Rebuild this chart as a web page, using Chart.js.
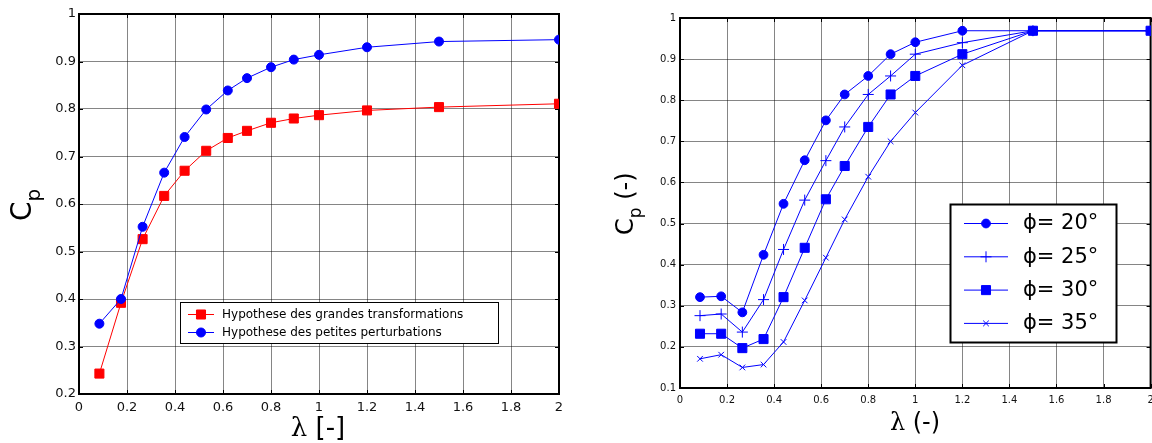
<!DOCTYPE html>
<html><head><meta charset="utf-8">
<script src="https://cdn.jsdelivr.net/npm/chart.js@4.4.1/dist/chart.umd.min.js"></script>
<style>
html,body{margin:0;padding:0;background:#fff;width:1152px;height:443px;overflow:hidden;position:relative;}
#c1{position:absolute;left:0;top:0;}
#c2{position:absolute;left:580px;top:0;}
</style></head><body>
<canvas id="c1" width="580" height="443"></canvas>
<canvas id="c2" width="578" height="443"></canvas>
<script>
// ---- data ----
const lambda = [0.085, 0.175, 0.265, 0.355, 0.44, 0.53, 0.62, 0.70, 0.80, 0.895, 1.0, 1.2, 1.5, 2.0];
const cpGrandes = [0.243, 0.392, 0.526, 0.617, 0.670, 0.712, 0.739, 0.754, 0.771, 0.780, 0.787, 0.797, 0.804, 0.811];
const cpPetites = [0.348, 0.400, 0.552, 0.666, 0.741, 0.799, 0.839, 0.865, 0.888, 0.904, 0.914, 0.930, 0.942, 0.946];
const cpPhi20 = [0.321, 0.323, 0.284, 0.424, 0.548, 0.654, 0.751, 0.814, 0.859, 0.912, 0.941, 0.969, 0.969, 0.969];
const cpPhi25 = [0.276, 0.280, 0.236, 0.315, 0.437, 0.557, 0.653, 0.735, 0.814, 0.859, 0.912, 0.940, 0.969, 0.969];
const cpPhi30 = [0.232, 0.232, 0.197, 0.219, 0.321, 0.441, 0.559, 0.640, 0.735, 0.814, 0.859, 0.912, 0.969, 0.969];
const cpPhi35 = [0.171, 0.181, 0.150, 0.157, 0.212, 0.313, 0.417, 0.510, 0.614, 0.700, 0.770, 0.885, 0.969, 0.969];
const labelsLeft = ['Hypothese des grandes transformations', 'Hypothese des petites perturbations'];
const labelsRight = ['\u03D5= 20\u00B0', '\u03D5= 25\u00B0', '\u03D5= 30\u00B0', '\u03D5= 35\u00B0'];
const xTitleLeft = ['\u03BB', ' [-]'];
const xTitleRight = ['\u03BB', ' (-)'];
const yTitleMain = 'C', yTitleSub = 'p', yTitleUnitRight = ' (-)';

const pts = arr => lambda.map((x, i) => ({x: x, y: arr[i]}));
const SANS = '"DejaVu Sans", "Liberation Sans", Arial, sans-serif';
const SERIF = '"DejaVu Serif", "Liberation Serif", serif';
const GRID = 'rgba(0,0,0,0.48)';
const fmt = v => String(parseFloat(Number(v).toFixed(2)));

function drawMarker(ctx, ds, x, y) {
  ctx.fillStyle = ds.pointBackgroundColor || ds.borderColor;
  ctx.strokeStyle = ds.pointBorderColor || ds.borderColor;
  ctx.lineWidth = 1;
  if (Chart.helpers && Chart.helpers.drawPoint) {
    Chart.helpers.drawPoint(ctx, {pointStyle: ds.pointStyle, radius: ds.pointRadius, rotation: 0, borderWidth: 1}, x, y);
  }
}

function framePlugin(id) {
  return {
    id: id,
    beforeDatasetsDraw(ch) {
      const {ctx, chartArea: a, scales} = ch;
      ctx.save();
      ctx.strokeStyle = '#000';
      ctx.lineWidth = 1;
      const L = 4;
      ctx.beginPath();
      scales.x.ticks.forEach(t => {
        const px = Math.round(scales.x.getPixelForValue(t.value)) + 0.5;
        ctx.moveTo(px, a.bottom); ctx.lineTo(px, a.bottom - L);
        ctx.moveTo(px, a.top); ctx.lineTo(px, a.top + L);
      });
      scales.y.ticks.forEach(t => {
        const py = Math.round(scales.y.getPixelForValue(t.value)) + 0.5;
        ctx.moveTo(a.left, py); ctx.lineTo(a.left + L, py);
        ctx.moveTo(a.right, py); ctx.lineTo(a.right - L, py);
      });
      ctx.stroke();
      ctx.lineWidth = 2;
      ctx.strokeRect(a.left, a.top, a.right - a.left, a.bottom - a.top);
      ctx.restore();
    }
  };
}

function legendPlugin(id, cfg) {
  return {
    id: id,
    afterDatasetsDraw(ch) {
      const ctx = ch.ctx;
      ctx.save();
      ctx.fillStyle = '#fff';
      ctx.fillRect(cfg.x, cfg.y, cfg.w, cfg.h);
      ctx.strokeStyle = '#000';
      ctx.lineWidth = cfg.border;
      ctx.strokeRect(cfg.x + 0.5, cfg.y + 0.5, cfg.w, cfg.h);
      cfg.order.forEach((di, k) => {
        const ds = ch.data.datasets[di];
        const yy = cfg.y0 + k * cfg.dy;
        ctx.strokeStyle = ds.borderColor;
        ctx.lineWidth = 1;
        ctx.beginPath();
        ctx.moveTo(cfg.lx0, yy + 0.5); ctx.lineTo(cfg.lx1, yy + 0.5);
        ctx.stroke();
        drawMarker(ctx, ds, (cfg.lx0 + cfg.lx1) / 2, yy + 0.5);
        ctx.fillStyle = '#000';
        ctx.font = cfg.font;
        ctx.textBaseline = 'middle';
        ctx.textAlign = 'left';
        ctx.fillText(ds.label, cfg.tx, yy + 1);
      });
      ctx.restore();
    }
  };
}

function titlePlugin(id, cfg) {
  return {
    id: id,
    afterDraw(ch) {
      const ctx = ch.ctx;
      ctx.save();
      ctx.fillStyle = '#000';
      ctx.textBaseline = 'alphabetic';
      ctx.textAlign = 'left';
      ctx.font = cfg.xFont1;
      const w1 = ctx.measureText(cfg.xText[0]).width;
      ctx.font = cfg.xFont2;
      const w2 = ctx.measureText(cfg.xText[1]).width;
      let sx = cfg.xCx - (w1 + w2) / 2;
      ctx.font = cfg.xFont1;
      ctx.fillText(cfg.xText[0], sx, cfg.xBase);
      ctx.font = cfg.xFont2;
      ctx.fillText(cfg.xText[1], sx + w1, cfg.xBase);
      ctx.translate(cfg.yBaseX, cfg.yStartY);
      ctx.rotate(-Math.PI / 2);
      ctx.font = cfg.yFont;
      ctx.fillText(yTitleMain, 0, 0);
      const wc = ctx.measureText(yTitleMain).width;
      ctx.font = cfg.ySubFont;
      ctx.fillText(yTitleSub, wc, cfg.ySubDrop);
      const wp = ctx.measureText(yTitleSub).width;
      if (cfg.yUnit) {
        ctx.font = cfg.yFont;
        ctx.fillText(cfg.yUnit, wc + wp, 0);
      }
      ctx.restore();
    }
  };
}

function axes(xmin, xmax, xstep, ymin, ymax, ystep, yWidth, xHeight, fontSize, xPad, yPad) {
  return {
    x: {
      type: 'linear', min: xmin, max: xmax,
      ticks: {stepSize: xstep, color: '#111', font: {family: SANS, size: fontSize}, padding: xPad, maxRotation: 0, autoSkip: false, callback: fmt},
      grid: {color: GRID, lineWidth: 1, drawTicks: false},
      border: {display: false},
      afterFit: s => { s.height = xHeight; s.paddingLeft = 0; s.paddingRight = 0; }
    },
    y: {
      type: 'linear', min: ymin, max: ymax,
      ticks: {stepSize: ystep, color: '#111', font: {family: SANS, size: fontSize}, padding: yPad, autoSkip: false, callback: fmt},
      grid: {color: GRID, lineWidth: 1, drawTicks: false},
      border: {display: false},
      afterFit: s => { s.width = yWidth; s.paddingTop = 0; s.paddingBottom = 0; }
    }
  };
}

// ---- left chart ----
new Chart(document.getElementById('c1'), {
  type: 'line',
  data: {
    datasets: [
      {label: labelsLeft[0], data: pts(cpGrandes), borderColor: '#ff0000', backgroundColor: '#ff0000',
       pointBackgroundColor: '#ff0000', pointBorderColor: '#ff0000', pointStyle: 'rect', pointRadius: 6.4,
       borderWidth: 1, order: 1},
      {label: labelsLeft[1], data: pts(cpPetites), borderColor: '#0000ff', backgroundColor: '#0000ff',
       pointBackgroundColor: '#0000ff', pointBorderColor: '#0000ff', pointStyle: 'circle', pointRadius: 4.5,
       borderWidth: 1, order: 0}
    ]
  },
  options: {
    responsive: false, animation: false,
    layout: {padding: {top: 14, right: 21, left: 0, bottom: 0}},
    scales: axes(0, 2, 0.2, 0.2, 1, 0.1, 79, 49, 13, 6, 3),
    plugins: {legend: {display: false}, tooltip: {enabled: false}}
  },
  plugins: [
    framePlugin('frame1'),
    legendPlugin('leg1', {x: 180, y: 302, w: 318, h: 41, border: 1, order: [0, 1], y0: 314, dy: 18,
      lx0: 188, lx1: 214, tx: 222, font: '12px ' + SANS}),
    titlePlugin('title1', {xText: xTitleLeft, xFont1: '26px ' + SERIF, xFont2: '26px ' + SANS, xCx: 318, xBase: 436,
      yBaseX: 31, yStartY: 221, yFont: '28px ' + SANS, ySubFont: '20px ' + SANS, ySubDrop: 9, yUnit: null})
  ]
});

// ---- right chart ----
const blue = '#0000ff';
new Chart(document.getElementById('c2'), {
  type: 'line',
  data: {
    datasets: [
      {label: labelsRight[0], data: pts(cpPhi20), borderColor: blue, pointBackgroundColor: blue, pointBorderColor: blue,
       pointStyle: 'circle', pointRadius: 4.4, borderWidth: 1, order: 1},
      {label: labelsRight[1], data: pts(cpPhi25), borderColor: blue, pointBackgroundColor: blue, pointBorderColor: blue,
       pointStyle: 'cross', pointRadius: 5.5, borderWidth: 1, order: 2},
      {label: labelsRight[2], data: pts(cpPhi30), borderColor: blue, pointBackgroundColor: blue, pointBorderColor: blue,
       pointStyle: 'rect', pointRadius: 6.4, borderWidth: 1, order: 0},
      {label: labelsRight[3], data: pts(cpPhi35), borderColor: blue, pointBackgroundColor: blue, pointBorderColor: blue,
       pointStyle: 'crossRot', pointRadius: 4, borderWidth: 1, order: 3}
    ]
  },
  options: {
    responsive: false, animation: false,
    layout: {padding: {top: 18, right: 2, left: 0, bottom: 0}},
    scales: axes(0, 2, 0.2, 0.1, 1, 0.1, 100, 55, 10, 6, 4),
    plugins: {legend: {display: false}, tooltip: {enabled: false}}
  },
  plugins: [
    framePlugin('frame2'),
    legendPlugin('leg2', {x: 370, y: 204, w: 166, h: 138, border: 2, order: [0, 1, 2, 3], y0: 223, dy: 33.3,
      lx0: 384, lx1: 428, tx: 443, font: '21px ' + SANS}),
    titlePlugin('title2', {xText: xTitleRight, xFont1: '24px ' + SERIF, xFont2: '24px ' + SANS, xCx: 335, xBase: 430,
      yBaseX: 53, yStartY: 235, yFont: '24px ' + SANS, ySubFont: '17px ' + SANS, ySubDrop: 8, yUnit: yTitleUnitRight})
  ]
});
</script>
</body></html>
